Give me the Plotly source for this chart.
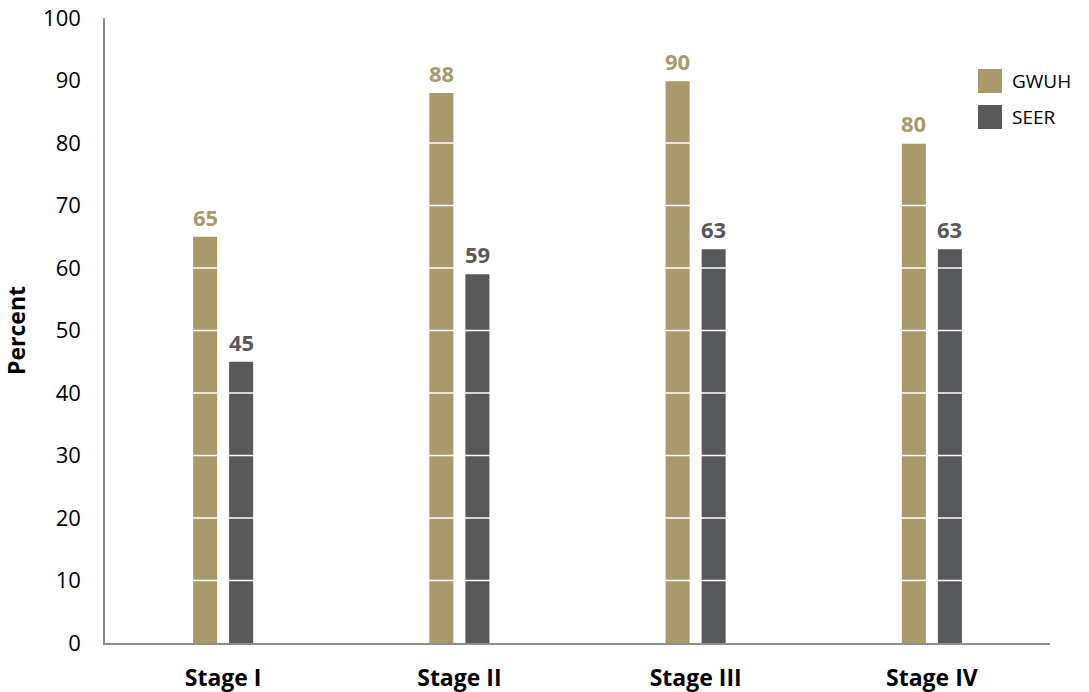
import plotly.graph_objects as go

categories = ["Stage I", "Stage II", "Stage III", "Stage IV"]
gwuh = [65, 88, 90, 80]
seer = [45, 59, 63, 63]
y_ticks = [0, 10, 20, 30, 40, 50, 60, 70, 80, 90, 100]
series_names = ["GWUH", "SEER"]

GOLD = "#A99A6C"
GRAY = "#58595B"
FONT = "Open Sans"

fig = go.Figure()
for name, vals, col, shift in [(series_names[0], gwuh, GOLD, -18), (series_names[1], seer, GRAY, 18)]:
    fig.add_trace(go.Bar(name=name, x=categories, y=vals,
                         marker=dict(color=col, line_width=0), showlegend=False))
    # value labels as annotations so they sit above the white gridlines
    for c, v in zip(categories, vals):
        fig.add_annotation(x=c, y=v, text=str(v), showarrow=False, xshift=shift,
                           yanchor="bottom", yshift=3,
                           font=dict(family=FONT, size=22, color=col, weight="bold"))

# white gridlines drawn over the bars
for t in y_ticks[1:-1]:
    fig.add_shape(type="line", xref="x domain", yref="y", x0=0.005, x1=1, y0=t, y1=t,
                  line=dict(color="white", width=1.5), layer="above")

# legend (square swatches + labels)
legend_rows = [(series_names[0], GOLD, 0.9184), (series_names[1], GRAY, 0.8608)]
for name, col, ytop in legend_rows:
    fig.add_shape(type="rect", xref="paper", yref="paper", x0=0.9238, x1=0.9492,
                  y0=ytop - 0.0384, y1=ytop, fillcolor=col, line_width=0, layer="above")
    fig.add_annotation(xref="paper", yref="paper", x=0.9577, y=ytop - 0.0192,
                       xanchor="left", yanchor="middle", showarrow=False, text=name,
                       font=dict(family=FONT, size=19, color="#000"))

fig.update_layout(
    width=1089, height=692,
    margin=dict(l=105, r=39, t=18, b=49),
    plot_bgcolor="white", paper_bgcolor="white",
    barmode="group", bargap=0.695, bargroupgap=0.333,
    font=dict(family=FONT, size=18, color="#000000"),
    showlegend=False,
    xaxis=dict(showline=True, linecolor="#8c8c8c", linewidth=1.5, showgrid=False,
               ticks="", ticklabelstandoff=14, automargin=False,
               tickfont=dict(family=FONT, size=23, color="#000", weight="bold")),
    yaxis=dict(range=[0, 100], tickvals=y_ticks, showline=True, linecolor="#8c8c8c",
               linewidth=1.5, showgrid=False, ticks="", ticklabelstandoff=18,
               zeroline=False, automargin=False, ticklabeloverflow="allow",
               tickfont=dict(family=FONT, size=22, color="#000"),
               title=dict(text="Percent", standoff=23,
                          font=dict(family=FONT, size=23, color="#000", weight="bold"))),
)

fig.write_html("out.html", config={"displayModeBar": False},
               post_script="document.body.style.margin='0px';")
